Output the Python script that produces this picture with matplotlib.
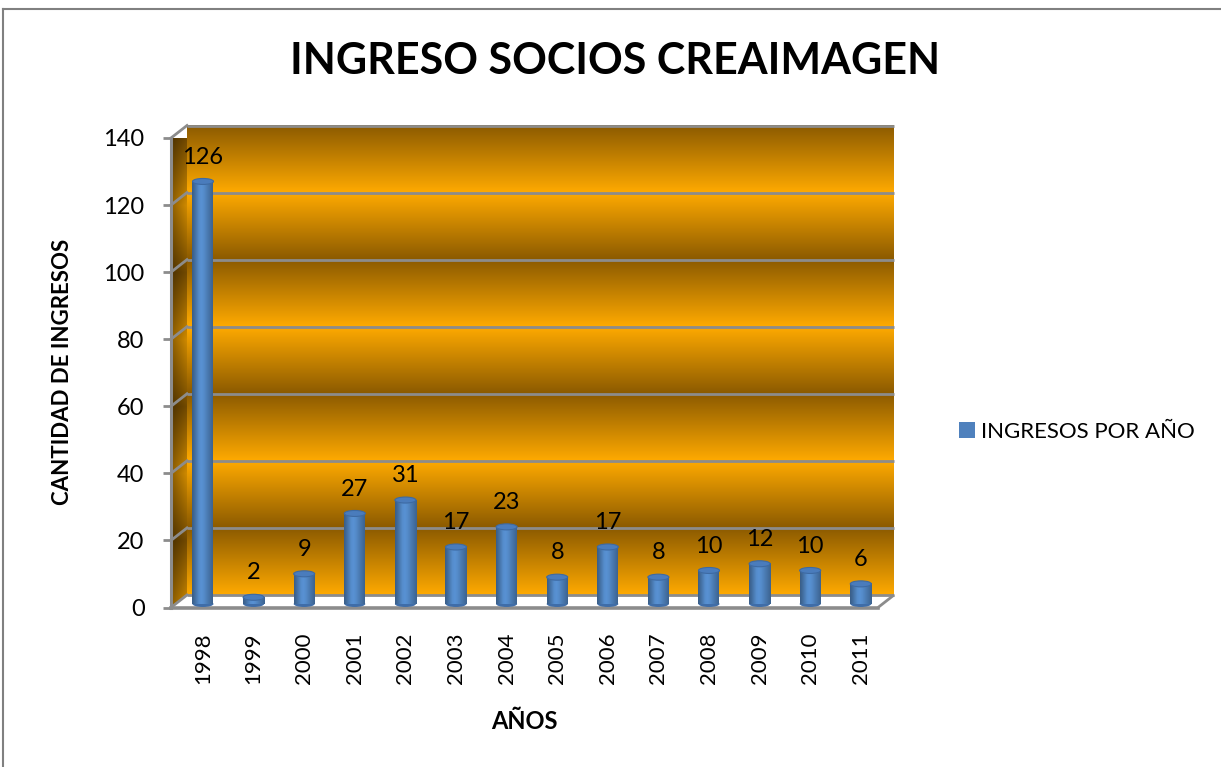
import numpy as np
import matplotlib.pyplot as plt
from matplotlib.patches import Polygon, Ellipse, Patch
from matplotlib.lines import Line2D

# data
years = ['1998', '1999', '2000', '2001', '2002', '2003', '2004',
         '2005', '2006', '2007', '2008', '2009', '2010', '2011']
ingresos = [126, 2, 9, 27, 31, 17, 23, 8, 17, 8, 10, 12, 10, 6]
y_ticks = [0, 20, 40, 60, 80, 100, 120, 140]

W, H = 1221, 767
FONT = 'Lato'
GRAY = '#8c8c8c'
BAR = '#4f81bd'
DARK = np.array([139, 90, 0]) / 255.0
BRIGHT = np.array([255, 170, 0]) / 255.0

plt.rcParams['font.family'] = [FONT, 'DejaVu Sans']

fig = plt.figure(figsize=(W / 100, H / 100), dpi=100)
fig.patch.set_facecolor('white')

# front plot area in pixels
ax_l, ax_r, ax_t, ax_b = 171, 878, 138, 607.5
ax = fig.add_axes([ax_l / W, 1 - ax_b / H, (ax_r - ax_l) / W, (ax_b - ax_t) / H])
xmin, xmax = -0.632, 13.34
ymax = 140
ax.set_xlim(xmin, xmax)
ax.set_ylim(0, ymax)
ax.patch.set_visible(False)

# depth offset of the back wall (px -> data units)
ux = (xmax - xmin) / (ax_r - ax_l)
uy = ymax / (ax_b - ax_t)
dx, dy = 16 * ux, 12.5 * uy


def wall_colors(lo, hi, n, scale=1.0):
    yy = np.linspace(lo, hi, n)
    b = 1 - np.abs(((yy - 20) % 40) - 20) / 20.0
    rgb = (DARK + b[:, None] * (BRIGHT - DARK)) * scale
    return np.clip(rgb, 0, 1)[:, None, :]


# back wall gradient
im = ax.imshow(wall_colors(0, ymax, 700), extent=(xmin + dx, xmax + dx, dy, ymax + dy),
               origin='lower', aspect='auto', interpolation='bilinear', zorder=0)
im.set_clip_on(False)

# side wall: darker on the left, lighter towards the back wall
side = Polygon([(xmin, 0), (xmin, ymax), (xmin + dx, ymax + dy), (xmin + dx, dy)],
               closed=True, facecolor='none', edgecolor='none', transform=ax.transData)
side_rgb = wall_colors(0, ymax + dy, 700, 0.7) * np.linspace(0.8, 1.15, 12)[None, :, None]
side_im = ax.imshow(np.clip(side_rgb, 0, 1), extent=(xmin, xmin + dx, 0, ymax + dy),
                    origin='lower', aspect='auto', interpolation='bilinear', zorder=0)
side_im.set_clip_path(side)
side_im.set_clip_on(True)

# floor
floor = Polygon([(xmin, 0), (xmax, 0), (xmax + dx, dy), (xmin + dx, dy)], closed=True,
                facecolor='white', edgecolor='none', zorder=1, clip_on=False)
ax.add_patch(floor)
ax.plot([xmax, xmax + dx], [0, dy], color=GRAY, lw=2, zorder=1.5, clip_on=False,
        solid_capstyle='butt')

# gridlines on back wall and side wall
for v in y_ticks:
    ax.plot([xmin + dx, xmax + dx], [v + dy, v + dy], color=GRAY, lw=2, zorder=1.5,
            clip_on=False, solid_capstyle='butt')
    ax.plot([xmin, xmin + dx], [v, v + dy], color=GRAY, lw=2, zorder=1.5, clip_on=False)

# cylinder bars
bw = 21 * ux
eh = 6 * uy
base = 3.5 * uy
shade = np.array([0.72, 0.82, 0.95, 1.08, 1.12, 1.08, 1.0, 0.92, 0.84, 0.76])
body_cols = np.clip(np.array([0.31, 0.51, 0.74])[None, :] * np.interp(
    np.linspace(0, 9, 60), np.arange(10), shade)[:, None], 0, 1)[None, :, :]
for i, v in enumerate(ingresos):
    ax.add_patch(Ellipse((i, base), bw, eh, facecolor='#3f6da8', edgecolor='none', zorder=3))
    ax.imshow(body_cols, extent=(i - bw / 2, i + bw / 2, base, base + v),
              aspect='auto', interpolation='bilinear', zorder=3)
    ax.add_patch(Ellipse((i, base + v), bw, eh, facecolor='#4a7cbc', edgecolor='#3d6aa3',
                         lw=0.8, zorder=4))
    ax.annotate(str(v), (i, base + v), xytext=(0, 17.5), textcoords='offset points',
                ha='center', va='center', fontsize=17, color='black', zorder=5)

ax.set_xlim(xmin, xmax)
ax.set_ylim(0, ymax)

# axes styling
for s in ['top', 'right']:
    ax.spines[s].set_visible(False)
ax.spines['left'].set_color(GRAY)
ax.spines['left'].set_linewidth(2.2)
ax.spines['bottom'].set_color(GRAY)
ax.spines['bottom'].set_linewidth(2.6)
ax.spines['left'].set_zorder(2)
ax.spines['bottom'].set_zorder(2)

ax.set_yticks(y_ticks)
ax.set_yticklabels([str(t) for t in y_ticks], fontsize=17)
ax.tick_params(axis='y', length=6, width=2, color=GRAY, pad=13)
ax.set_xticks(range(len(years)))
ax.set_xticklabels(years, rotation=90, fontsize=16, va='top', ha='center')
ax.tick_params(axis='x', length=0, pad=18)

# titles
fig.text(615 / W, 1 - 74 / H, 'INGRESO SOCIOS CREAIMAGEN', ha='center', va='baseline',
         fontsize=31, fontweight='bold')
fig.text(73 / W, 1 - 372 / H, 'CANTIDAD DE INGRESOS', rotation=90, ha='right', va='center',
         fontsize=16, fontweight='bold')
fig.text(524 / W, 1 - 729 / H, 'AÑOS', ha='center', va='baseline', fontsize=17,
         fontweight='bold')

# legend
fig.legend(handles=[Patch(facecolor=BAR, label='INGRESOS POR AÑO')], loc='center left',
           bbox_to_anchor=(948 / W, 1 - 432 / H), frameon=False, fontsize=16,
           handlelength=0.7, handleheight=0.7, handletextpad=0.3, borderpad=0)

# outer chart border
fig.add_artist(Line2D([3 / W, 3 / W], [0, 1 - 9 / H], color='#808080', lw=1.5))
fig.add_artist(Line2D([3 / W, 1], [1 - 9 / H, 1 - 9 / H], color='#808080', lw=1.5))

fig.savefig('out.png', dpi=100)
